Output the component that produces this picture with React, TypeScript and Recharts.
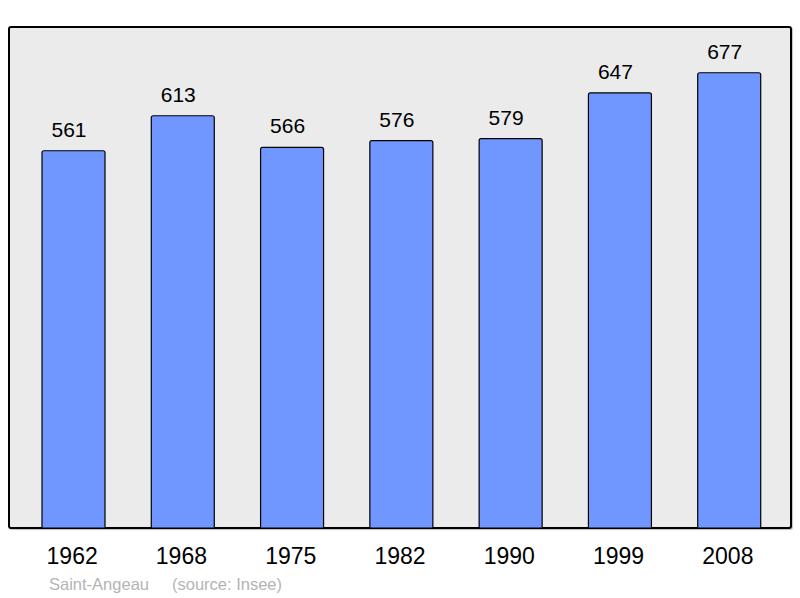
import React from "react";
import { BarChart, Bar, XAxis, YAxis, LabelList } from "recharts";

const years = ["1962", "1968", "1975", "1982", "1990", "1999", "2008"];
const population = [561, 613, 566, 576, 579, 647, 677];
const commune = "Saint-Angeau";
const source = "(source: Insee)";

const data = years.map((y, i) => ({ year: y, value: population[i] }));

export default function App() {
  return (
    <div style={{ position: "absolute", left: 0, top: 0, width: 800, height: 598, background: "#fff", fontFamily: "'Liberation Sans', Arial, sans-serif" }}>
      <div
        style={{
          position: "absolute",
          left: 8,
          top: 26,
          width: 780,
          height: 499,
          background: "#ebebeb",
          border: "2px solid #000",
          borderRadius: 3,
          boxShadow: "1px 1px 1px rgba(0,0,0,0.25)",
        }}
      />
      <div style={{ position: "absolute", left: 0, top: 0 }}>
        <BarChart
          width={800}
          height={598}
          data={data}
          margin={{ top: 27, right: 9, bottom: 0, left: 9 }}
        >
          <XAxis
            dataKey="year"
            height={70}
            axisLine={false}
            tickLine={false}
            tickSize={0}
            tickMargin={20}
            padding={{ left: 10, right: 7 }}
            interval={0}
            tick={{ fill: "#000", fontSize: 23, dx: -1.5, fontFamily: "'Liberation Sans', Arial, sans-serif" }}
          />
          <YAxis hide domain={[0, 745]} allowDataOverflow />
          <Bar
            dataKey="value"
            fill="#7096ff"
            stroke="#000"
            strokeWidth={1.2}
            barSize={63}
            radius={[2, 2, 0, 0]}
            isAnimationActive={false}
          >
            <LabelList
              dataKey="value"
              position="top"
              offset={14}
              dx={-4.5}
              fill="#000"
              fontSize={21}
              fontFamily="'Liberation Sans', Arial, sans-serif"
            />
          </Bar>
        </BarChart>
      </div>
      <div style={{ position: "absolute", left: 49, top: 575, fontSize: 16.5, color: "#b4b4b4", whiteSpace: "nowrap" }}>
        {commune}
      </div>
      <div style={{ position: "absolute", left: 172, top: 575, fontSize: 16.5, color: "#b4b4b4", whiteSpace: "nowrap" }}>
        {source}
      </div>
    </div>
  );
}
